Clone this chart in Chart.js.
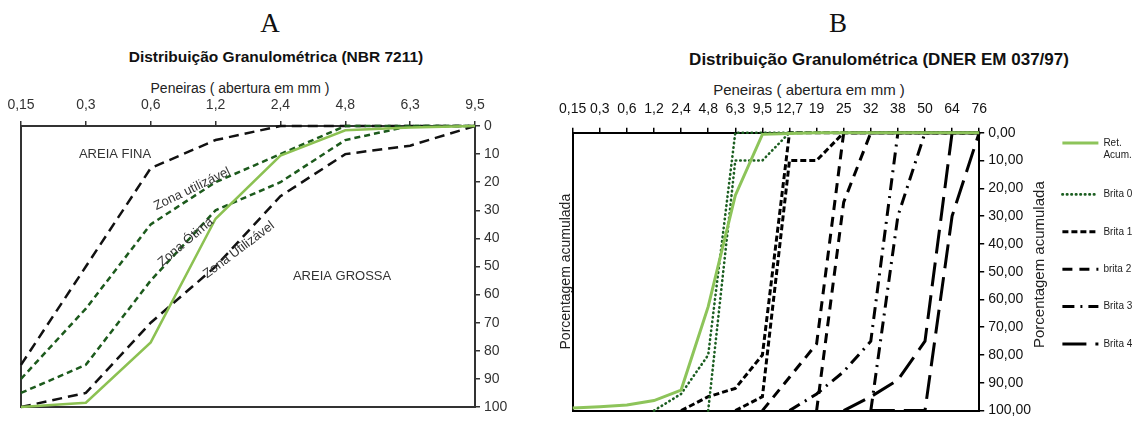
<!DOCTYPE html>
<html lang="pt">
<head>
<meta charset="UTF-8">
<title>Distribuição Granulométrica</title>
<script src="https://cdn.jsdelivr.net/npm/chart.js"></script>
<style>
  body { margin: 0; background: #fff; font-family: "Liberation Sans", Arial, sans-serif; }
  #wrap { position: relative; width: 1134px; height: 423px; overflow: hidden; }
  .lbl { position: absolute; transform: translate(-50%, -50%); white-space: nowrap; line-height: 1; color: #111; }
  canvas { position: absolute; top: 0; }
</style>
</head>
<body>
<div id="wrap">
  <div class="lbl" style="left:270px;top:23px;font:27px 'Liberation Serif',serif;">A</div>
  <div class="lbl" style="left:276px;top:57px;font:bold 15.5px 'Liberation Sans',Arial;">Distribuição Granulométrica (NBR 7211)</div>
  <div class="lbl" style="left:240px;top:88px;font:14px 'Liberation Sans',Arial;color:#222;">Peneiras ( abertura em mm )</div>

  <div class="lbl" style="left:838px;top:23px;font:27px 'Liberation Serif',serif;">B</div>
  <div class="lbl" style="left:879px;top:60px;font:bold 17px 'Liberation Sans',Arial;">Distribuição Granulométrica (DNER EM 037/97)</div>
  <div class="lbl" style="left:809px;top:89px;font:15px 'Liberation Sans',Arial;color:#222;">Peneiras ( abertura em mm )</div>

  <canvas id="chartA" width="560" height="423" style="left:0"></canvas>
  <canvas id="chartB" width="586" height="423" style="left:548px"></canvas>
</div>

<script>
    // ---------- Gráfico A: NBR 7211 (agregado miúdo) ----------
    const peneirasA = ['0,15', '0,3', '0,6', '1,2', '2,4', '4,8', '6,3', '9,5'];
    const amostraA = [100, 98.5, 77, 33, 10.5, 1.5, 0.5, 0];
    const limInfUtilizavel = [85, 50, 15, 5, 0, 0, 0, 0];
    const limInfOtima = [90, 65, 35, 20, 10, 0, 0, 0];
    const limSupOtima = [95, 85, 55, 30, 20, 5, 0, 0];
    const limSupUtilizavel = [100, 95, 70, 50, 25, 10, 7, 0];

    // ---------- Gráfico B: DNER EM 037/97 (agregado graúdo) ----------
    const peneirasB = ['0,15', '0,3', '0,6', '1,2', '2,4', '4,8', '6,3', '9,5', '12,7', '19', '25', '32', '38', '50', '64', '76'];
    const retAcum = [99.1, 98.6, 98.0, 96.4, 92.6, 62.6, 22.6, 0.6, 0.3, 0, 0, 0, 0, 0, 0, 0];
    const brita0Inf = [null, null, null, 100, 94, 80, 0, 0, 0, 0, 0, 0, 0, 0, 0, 0];
    const brita0Sup = [null, null, null, null, null, 100, 10, 10, 0, 0, 0, 0, 0, 0, 0, 0];
    const brita1Inf = [null, null, null, null, 100, 95, 92, 80, 0, 0, 0, 0, 0, 0, 0, 0];
    const brita1Sup = [null, null, null, null, null, null, 100, 95, 10, 10, 0, 0, 0, 0, 0, 0];
    const brita2Inf = [null, null, null, null, null, null, null, 100, 88, 76, 0, 0, 0, 0, 0, 0];
    const brita2Sup = [null, null, null, null, null, null, null, null, null, 100, 25, 0, 0, 0, 0, 0];
    const brita3Inf = [null, null, null, null, null, null, null, null, 100, 94, 86, 75, 0, 0, 0, 0];
    const brita3Sup = [null, null, null, null, null, null, null, null, null, null, null, 100, 30, 0, 0, 0];
    const brita4Inf = [null, null, null, null, null, null, null, null, null, null, 100, 95, 89, 75, 0, 0];
    const brita4Sup = [null, null, null, null, null, null, null, null, null, null, null, 100, 100, 100, 30, 0];

    Chart.defaults.font.family = "'Liberation Sans', Arial, sans-serif";
    Chart.defaults.color = '#222';

    // eixo só com a linha da moldura (sem ticks)
    function frameAxis(position, color) {
        const horizontal = position === 'top' || position === 'bottom';
        return {
            type: horizontal ? 'category' : 'linear',
            position: position,
            offset: false,
            ticks: { display: false },
            grid: { display: false, drawTicks: false },
            border: { display: true, color: color, width: 2 },
            afterFit: s => { if (horizontal) s.height = 0; else s.width = 0; }
        };
    }

    function serie(label, data, color, width, dash, cap) {
        return {
            label: label, data: data, borderColor: color, backgroundColor: color,
            borderWidth: width, borderDash: dash || [], borderCapStyle: cap || 'butt',
            pointRadius: 0, tension: 0, fill: false, clip: false, spanGaps: false
        };
    }

    // textos das zonas no gráfico A (em coordenadas do gráfico)
    const zoneLabels = {
        id: 'zoneLabels',
        afterDatasetsDraw(chart) {
            const { ctx, scales: { x, y } } = chart;
            const items = [
                { t: 'AREIA FINA', i: 1.45, v: 10, a: 0 },
                { t: 'AREIA GROSSA', i: 4.95, v: 53.5, a: 0 },
                { t: 'Zona utilizável', i: 2.64, v: 22.4, a: -25.7 },
                { t: 'Zona Ótima', i: 2.54, v: 41.3, a: -40.5 },
                { t: 'Zona Utilizável', i: 3.36, v: 44.1, a: -37 }
            ];
            ctx.save();
            ctx.font = "13px 'Liberation Sans', Arial";
            ctx.fillStyle = '#333';
            ctx.textAlign = 'center';
            ctx.textBaseline = 'middle';
            items.forEach(it => {
                ctx.save();
                ctx.translate(x.getPixelForValue(it.i), y.getPixelForValue(it.v));
                ctx.rotate(it.a * Math.PI / 180);
                ctx.fillText(it.t, 0, 0);
                ctx.restore();
            });
            ctx.restore();
        }
    };

    new Chart(document.getElementById('chartA'), {
        type: 'line',
        data: {
            labels: peneirasA,
            datasets: [
                serie('Amostra', amostraA, '#8cc152', 2.5),
                serie('Zona ótima (inf.)', limInfOtima, '#1c5a1c', 2.5, [6, 4]),
                serie('Zona ótima (sup.)', limSupOtima, '#1c5a1c', 2.5, [6, 4]),
                serie('Zona utilizável (inf.)', limInfUtilizavel, '#111', 2.5, [10, 6]),
                serie('Zona utilizável (sup.)', limSupUtilizavel, '#111', 2.5, [10, 6])
            ]
        },
        options: {
            responsive: false,
            animation: false,
            layout: { padding: { top: 66, left: 21, right: 45, bottom: 16 } },
            plugins: { legend: { display: false }, tooltip: { enabled: false } },
            scales: {
                x: {
                    type: 'category', position: 'top', offset: false,
                    grid: { drawOnChartArea: false, tickLength: 5, color: '#333', lineWidth: 1.5 },
                    border: { color: '#333', width: 2 },
                    ticks: { font: { size: 14 }, color: '#333', padding: 7, autoSkip: false, maxRotation: 0 },
                    afterFit: s => { s.height = 60; }
                },
                x2: frameAxis('bottom', '#333'),
                y: {
                    position: 'right', min: 0, max: 100, reverse: true,
                    grid: { drawOnChartArea: false, tickLength: 5, color: '#333', lineWidth: 1.5 },
                    border: { color: '#333', width: 2 },
                    ticks: { stepSize: 10, font: { size: 14 }, color: '#333', padding: 4 },
                    afterFit: s => { s.width = 40; }
                },
                y2: frameAxis('left', '#333')
            }
        },
        plugins: [zoneLabels]
    });

    // título do eixo à direita do gráfico B (lido de baixo para cima)
    const rightTitle = {
        id: 'rightTitle',
        afterDraw(chart) {
            const { ctx, chartArea } = chart;
            ctx.save();
            ctx.translate(chartArea.right + 61, (chartArea.top + chartArea.bottom) / 2 - 7);
            ctx.rotate(-Math.PI / 2);
            ctx.font = "15px 'Liberation Sans', Arial";
            ctx.fillStyle = '#222';
            ctx.textAlign = 'center';
            ctx.textBaseline = 'middle';
            ctx.fillText('Porcentagem acumulada', 0, 0);
            ctx.restore();
        }
    };

    new Chart(document.getElementById('chartB'), {
        type: 'line',
        data: {
            labels: peneirasB,
            datasets: [
                serie(['Ret.', 'Acum.'], retAcum, '#8dc45a', 3),
                serie('Brita 0', brita0Inf, '#1b5e20', 2.6, [0.5, 4], 'round'),
                serie('', brita0Sup, '#1b5e20', 2.6, [0.5, 4], 'round'),
                serie('Brita 1', brita1Inf, '#000', 3, [6, 3]),
                serie('', brita1Sup, '#000', 3, [6, 3]),
                serie('brita 2', brita2Inf, '#000', 3, [10, 7]),
                serie('', brita2Sup, '#000', 3, [10, 7]),
                serie('Brita 3', brita3Inf, '#000', 3, [12, 6, 2, 6]),
                serie('', brita3Sup, '#000', 3, [12, 6, 2, 6]),
                serie('Brita 4', brita4Inf, '#000', 3, [24, 9]),
                serie('', brita4Sup, '#000', 3, [24, 9])
            ]
        },
        options: {
            responsive: false,
            animation: false,
            layout: { padding: { top: 95, left: 0, right: 0, bottom: 7 } },
            plugins: {
                tooltip: { enabled: false },
                legend: {
                    position: 'right', align: 'start', maxWidth: 99,
                    title: { display: true, text: '', font: { size: 1 }, padding: { top: 14.4, bottom: 0 } },
                    labels: {
                        usePointStyle: true, pointStyle: 'line', pointStyleWidth: 36,
                        font: { size: 10 }, color: '#222', padding: 27.4,
                        generateLabels: chart => {
                            const base = Chart.defaults.plugins.legend.labels.generateLabels(chart);
                            return base.map(it => {
                                const ds = chart.data.datasets[it.datasetIndex];
                                return Object.assign(it, {
                                    lineDash: ds.borderDash, lineWidth: ds.borderWidth,
                                    strokeStyle: ds.borderColor, lineCap: ds.borderCapStyle,
                                    pointStyle: 'line'
                                });
                            });
                        },
                        filter: item => item.text !== ''
                    }
                }
            },
            scales: {
                x: {
                    type: 'category', position: 'top', offset: false,
                    grid: { drawOnChartArea: false, tickLength: 5, color: '#000', lineWidth: 1.5 },
                    border: { color: '#000', width: 2 },
                    ticks: { font: { size: 14 }, color: '#111', padding: 10, autoSkip: false, maxRotation: 0 },
                    afterFit: s => { s.height = 37.7; }
                },
                x2: frameAxis('bottom', '#000'),
                y: {
                    position: 'right', min: 0, max: 100, reverse: true,
                    grid: { drawOnChartArea: false, tickLength: 5, color: '#000', lineWidth: 1.5 },
                    border: { color: '#000', width: 2 },
                    ticks: {
                        stepSize: 10, font: { size: 14 }, color: '#111', padding: 4,
                        callback: v => v.toFixed(2).replace('.', ',')
                    },
                    afterFit: s => { s.width = 55.8; }
                },
                y2: {
                    position: 'left',
                    ticks: { display: false },
                    grid: { display: false, drawTicks: false },
                    border: { display: true, color: '#000', width: 2 },
                    title: {
                        display: true, text: 'Porcentagem acumulada',
                        font: { size: 14 }, color: '#222', padding: { top: 9.8, bottom: 0 }
                    },
                    afterFit: s => { s.width = 24.7; }
                }
            }
        },
        plugins: [rightTitle]
    });
</script>
</body>
</html>
